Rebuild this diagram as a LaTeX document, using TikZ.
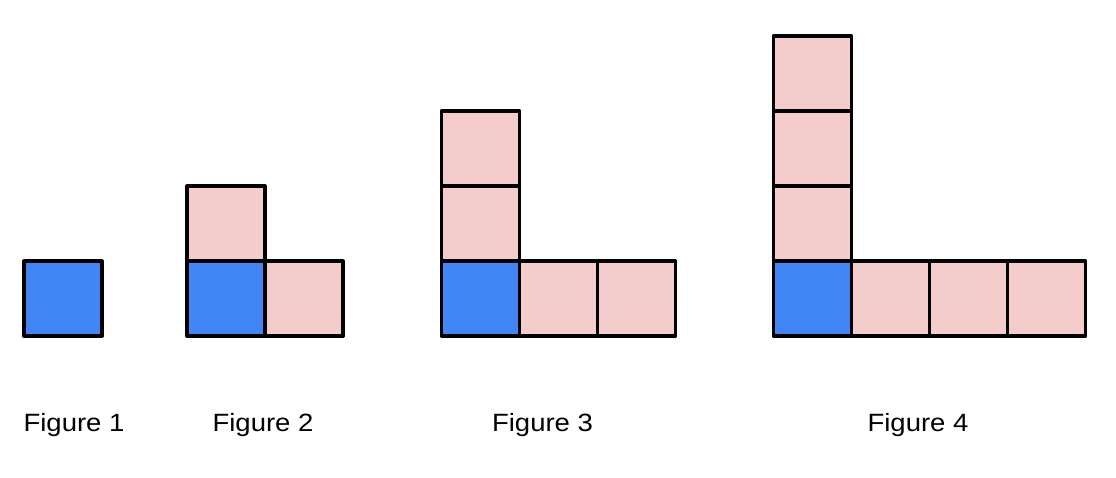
\documentclass[tikz,border=0pt]{standalone}
\usepackage{fontspec}
\newfontfamily\labelfont[FakeStretch=1.1]{Liberation Sans}
\definecolor{sqblue}{HTML}{4285F4}
\definecolor{sqpink}{HTML}{F4CCCC}
\begin{document}
\begin{tikzpicture}[x=1pt,y=-1pt,
  sq/.style={draw=black,line width=3.5pt,rectangle,inner sep=0pt,
    minimum width=78pt,minimum height=75pt,line join=round},
  bsq/.style={sq,fill=sqblue},
  psq/.style={sq,fill=sqpink},
  lbl/.style={anchor=base,font=\labelfont\fontsize{25}{30}\selectfont,inner sep=0pt}]
\useasboundingbox[fill=white] (0,0) rectangle (1116,478);
% Figure 1
\node[bsq] (f1b) at (63,298.7) {};
% Figure 2
\node[bsq] (f2b) at (226,298.7) {};
\node[psq] (f2r1) at (304,298.7) {};
\node[psq] (f2u1) at (226,223.7) {};
% Figure 3
\node[bsq] (f3b) at (480.5,298.7) {};
\node[psq] (f3r1) at (558.5,298.7) {};
\node[psq] (f3r2) at (636.5,298.7) {};
\node[psq] (f3u1) at (480.5,223.7) {};
\node[psq] (f3u2) at (480.5,148.7) {};
% Figure 4
\node[bsq] (f4b) at (812.5,298.7) {};
\node[psq] (f4r1) at (890.5,298.7) {};
\node[psq] (f4r2) at (968.5,298.7) {};
\node[psq] (f4r3) at (1046.5,298.7) {};
\node[psq] (f4u1) at (812.5,223.7) {};
\node[psq] (f4u2) at (812.5,148.7) {};
\node[psq] (f4u3) at (812.5,73.7) {};
% labels
\node[lbl] (l1) at (74,431) {Figure 1};
\node[lbl] (l2) at (263,431) {Figure 2};
\node[lbl] (l3) at (542.5,431) {Figure 3};
\node[lbl] (l4) at (918,431) {Figure 4};
\end{tikzpicture}
\end{document}
